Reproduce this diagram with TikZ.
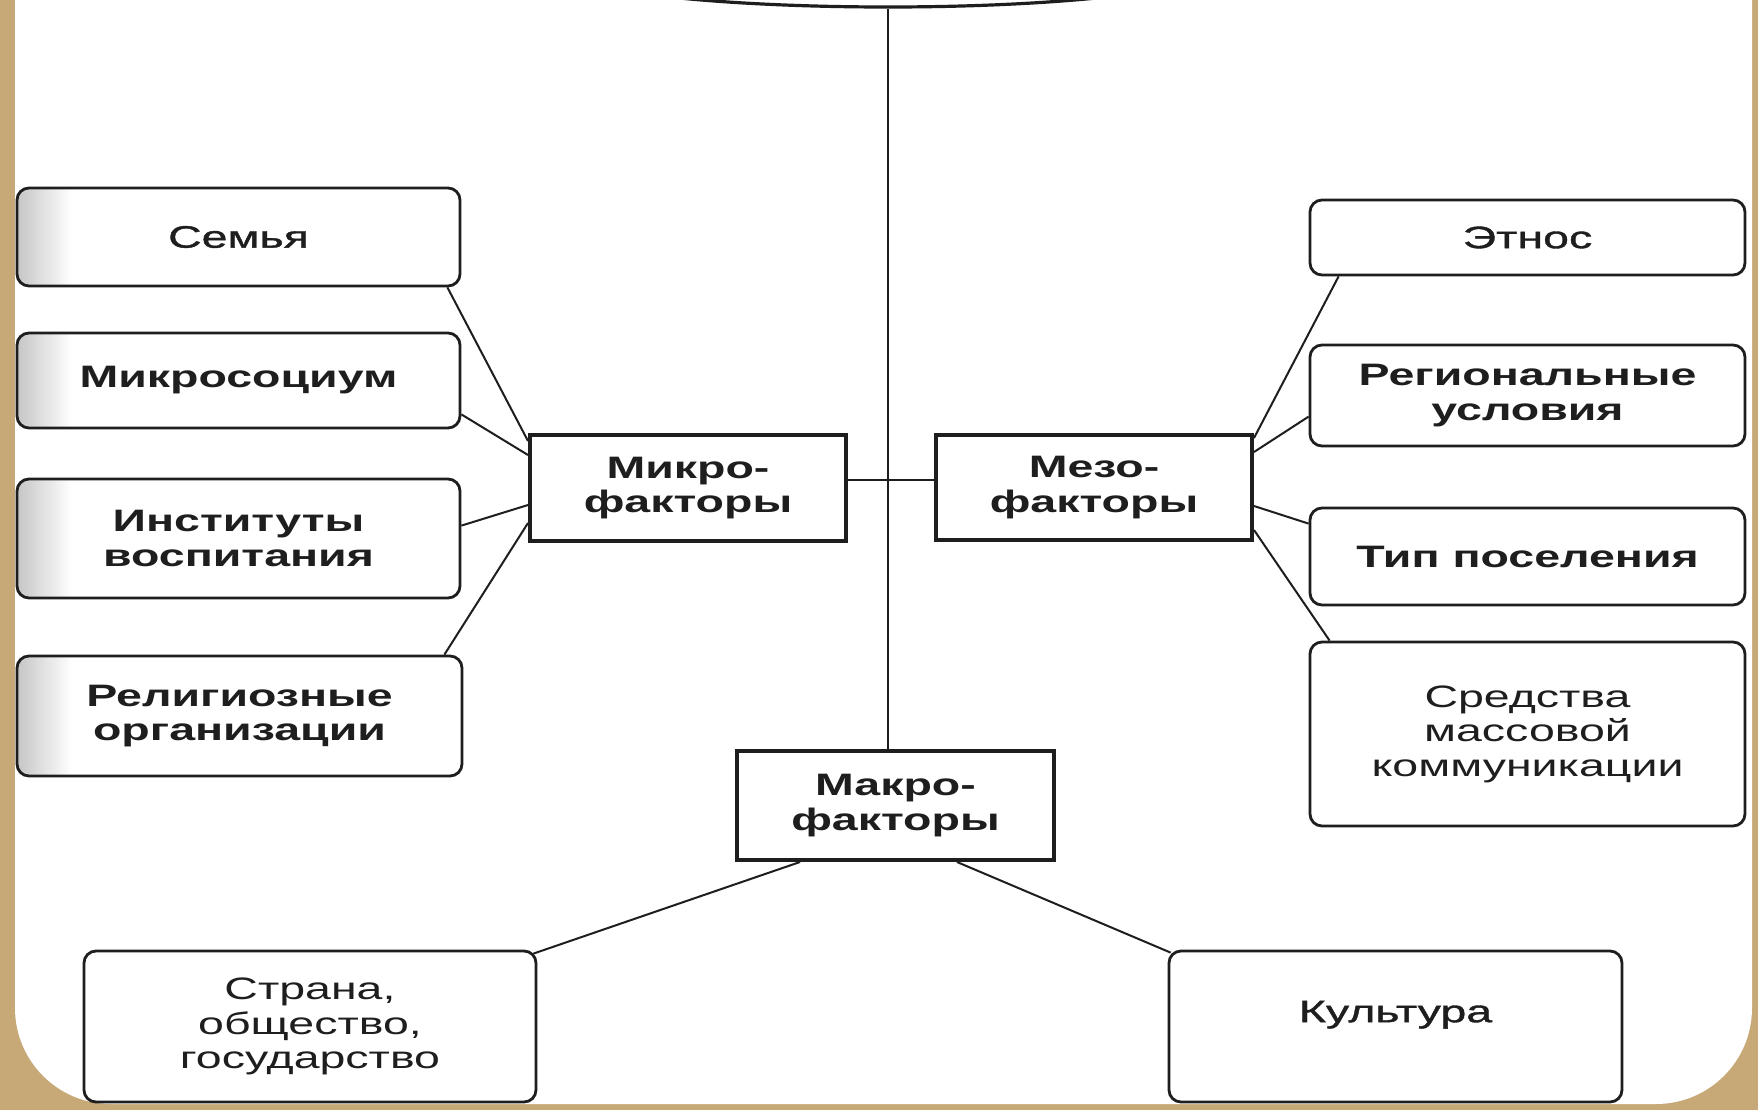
\documentclass[tikz,border=0pt]{standalone}
\usepackage{fontspec}
\setmainfont{Liberation Sans}
\newfontfamily\wideR[FakeStretch=1.5]{Liberation Sans}
\newfontfamily\wideM[FakeStretch=1.5,FakeBold=1.2]{Liberation Sans}
\usetikzlibrary{shapes.geometric,calc}
\definecolor{parch}{HTML}{C6A976}
\definecolor{ink}{HTML}{1E1E1E}
\newcommand\lshadeA[2]{%
  \begin{scope}
    \clip[rounded corners=6pt] (17,#1) rectangle (470,#2);
    \foreach \i [evaluate=\i as \op using {0.22*(1-\i/18)}, evaluate=\i as \xx using {17+3*\i}] in {0,...,17}
      {\fill[black, opacity=\op] (\xx,#1) rectangle ({\xx+3},#2);}
  \end{scope}}
\begin{document}
\begin{tikzpicture}[x=0.5pt,y=-0.5pt,
  sbox/.style={draw=ink, line width=1.4pt, rounded corners=6pt, inner sep=0pt, align=center, text=ink},
  cbox/.style={draw=ink, line width=2pt, inner sep=0pt, align=center, text=ink, fill=white},
  txtreg/.style={font=\wideR\fontsize{15.5}{17.3}\selectfont},
  txtmed/.style={font=\wideM\fontsize{15.5}{17.3}\selectfont},
  txtbold/.style={font=\wideR\bfseries\fontsize{15.5}{17.3}\selectfont},
  link/.style={draw=ink, line width=1pt}]
\useasboundingbox (0,0) rectangle (1758,1110);
\clip (0,0) rectangle (1758,1110);
\fill[parch] (0,0) rectangle (1758,1110);
\fill[white, rounded corners=48pt] (15,-300) rectangle (1752,1104);

% top ellipse
\node[draw=ink, line width=1.6pt, ellipse, minimum width=330pt, minimum height=40pt] (topell) at (888,-33) {};

% left shading of the left column
\lshadeA{188}{286}
\lshadeA{333}{428}
\lshadeA{479}{598}
\lshadeA{656}{776}

% left column
\node[sbox, txtmed, minimum width=221.5pt, minimum height=49pt] (semya) at (238.5,237) {Семья};
\node[sbox, txtbold, minimum width=221.5pt, minimum height=47.5pt] (msoc) at (238.5,380.5) {Микросоциум};
\node[sbox, txtbold, minimum width=221.5pt, minimum height=59.5pt] (inst) at (238.5,538.5) {Институты\\воспитания};
\node[sbox, txtbold, minimum width=222.5pt, minimum height=60pt] (relig) at (239.5,716) {Религиозные\\организации};

% right column
\node[sbox, txtmed, minimum width=217.5pt, minimum height=37.5pt] (etnos) at (1527.5,237.5) {Этнос};
\node[sbox, txtbold, minimum width=217.5pt, minimum height=50.5pt] (region) at (1527.5,395.5) {Региональные\\условия};
\node[sbox, txtbold, minimum width=217.5pt, minimum height=48.5pt] (tip) at (1527.5,556.5) {Тип поселения};
\node[sbox, txtreg, minimum width=217.5pt, minimum height=92pt] (smk) at (1527.5,734) {Средства\\массовой\\коммуникации};

% centre boxes
\node[cbox, txtbold, minimum width=158pt, minimum height=53pt] (mikro) at (688,488) {Микро-\\факторы};
\node[cbox, txtbold, minimum width=158pt, minimum height=52.5pt] (mezo) at (1094,487.5) {Мезо-\\факторы};
\node[cbox, txtbold, minimum width=158.5pt, minimum height=54.5pt] (makro) at (895.5,805.5) {Макро-\\факторы};

% bottom boxes
\node[sbox, txtreg, minimum width=226pt, minimum height=75.5pt] (strana) at (310,1026.5) {Страна,\\общество,\\государство};
\node[sbox, txtmed, minimum width=226.5pt, minimum height=75.5pt] (kult) at (1395.5,1026.5) {\raisebox{15pt}{Культура}};

% connectors
\draw[link] (topell.south) -- (topell.south |- makro.north);
\draw[link] ($(mikro.north east)+(0,47)$) -- ($(mezo.north west)+(0,47)$);

\draw[link] ($(semya.south east)+(-14,0)$) -- ($(mikro.north west)+(0,8)$);
\draw[link] ($(msoc.south east)+(0,-15)$) -- ($(mikro.north west)+(0,22)$);
\draw[link] ($(inst.north east)+(0,48)$) -- ($(mikro.north west)+(0,72)$);
\draw[link] ($(relig.north east)+(-19,0)$) -- ($(mikro.north west)+(0,90)$);

\draw[link] ($(etnos.south west)+(30,0)$) -- ($(mezo.north east)+(0,5)$);
\draw[link] ($(region.north west)+(0,73)$) -- ($(mezo.north east)+(0,19)$);
\draw[link] ($(tip.north west)+(0,17)$) -- ($(mezo.north east)+(0,73)$);
\draw[link] ($(smk.north west)+(21,0)$) -- ($(mezo.north east)+(0,97)$);

\draw[link] ($(makro.south west)+(65,0)$) -- ($(strana.north east)+(-4,4)$);
\draw[link] ($(makro.south west)+(222,0)$) -- ($(kult.north west)+(3,3)$);
\end{tikzpicture}
\end{document}
